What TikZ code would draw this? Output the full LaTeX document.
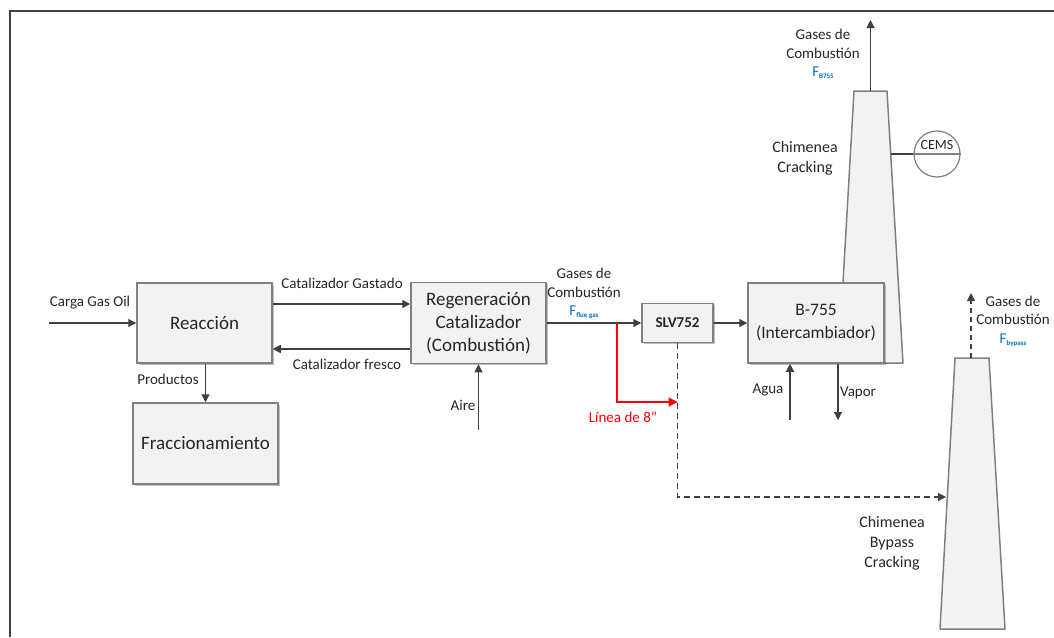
\documentclass[tikz,border=0pt]{standalone}
\usepackage{fontspec}
\setmainfont{Carlito}
\usetikzlibrary{arrows.meta,shadows}
\definecolor{boxfill}{RGB}{242,242,242}
\definecolor{boxline}{RGB}{128,128,128}
\definecolor{linec}{RGB}{64,64,64}
\definecolor{fblue}{RGB}{0,112,192}
\definecolor{txt}{RGB}{38,38,38}
\definecolor{redline}{RGB}{255,0,0}
\newcommand{\Fsub}[1]{\textcolor{fblue}{F\raisebox{-2pt}{\fontsize{7}{8}\selectfont\bfseries #1}}}
\begin{document}
\begin{tikzpicture}[x=1pt,y=-1pt,
  blk/.style={draw=boxline, fill=boxfill, line width=1.5pt, inner sep=0pt, align=center,
    font=\fontsize{19}{23}\selectfont, text=txt,
    drop shadow={shadow xshift=1.5pt, shadow yshift=-1.5pt, opacity=0.25, fill=black}},
  lbl/.style={inner sep=0pt, align=center, font=\fontsize{15}{18.5}\selectfont, text=txt},
  biglbl/.style={inner sep=0pt, align=center, font=\fontsize{16}{20}\selectfont, text=txt},
  flow/.style={draw=linec, line width=1.2pt, -{Triangle[length=8pt,width=8pt]}},
  redflow/.style={draw=redline, line width=1.5pt, -{Triangle[length=9pt,width=9pt]}},
  plain/.style={draw=linec, line width=1.2pt},
  stackshape/.style={draw=boxline, fill=boxfill, line width=1.5pt, line join=round},
]
\useasboundingbox (0,0) rectangle (1054,637);
% frame
\draw[line width=2.5pt, color=linec] (10,637) -- (10,11) -- (1054,11);

% stacks
\draw[stackshape] (838.4,363) -- (854,91) -- (887,91) -- (903,363) -- cycle;
\draw[stackshape] (940,629) -- (955,358) -- (989,358) -- (1005,629) -- cycle;
\coordinate (s1top) at (870.5,91);
\coordinate (s1out) at (870.5,20);
\coordinate (s1r) at (890.7,154);
\coordinate (s2top) at (971,358);
\coordinate (s2out) at (971,293);
\coordinate (s2in) at (946,497);

% boxes
\node[blk, minimum width=135pt, minimum height=80pt] (rea) at (204.5,323) {Reacción};
\node[blk, minimum width=145pt, minimum height=81pt] (fra) at (205.5,443.5) {Fraccionamiento};
\node[blk, minimum width=135pt, minimum height=81pt] (reg) at (478.5,323) {Regeneración\\Catalizador\\(Combustión)};
\node[blk, minimum width=71pt, minimum height=39pt, font=\fontsize{15}{18}\selectfont\bfseries] (slv) at (677.5,323) {SLV752};
\node[blk, minimum width=136pt, minimum height=80pt, font=\fontsize{17.5}{23}\selectfont] (b755) at (816,323) {B-755\\(Intercambiador)};

% CEMS
\node[circle, draw=boxline, line width=1.2pt, minimum size=46pt, inner sep=0pt] (cems) at (937,154) {};
\draw[boxline, line width=1.2pt] (cems.west) -- (cems.east);
\node[inner sep=0pt, font=\fontsize{14}{16}\selectfont, text=txt] (cemst) at (937,145) {CEMS};
\draw[plain] (s1r) -- (cems.west);

% coordinates for free ends
\coordinate (cgin) at (49,323);
\coordinate (aire) at (478.5,430);
\coordinate (rs) at (617,323);
\coordinate (rc) at (617,402);
\coordinate (agua) at (790,420);
\coordinate (vap) at (838,420);

% connectors
\draw[flow] (cgin) -- (rea.west);
\draw[flow] ([yshift=19pt]rea.east) -- ([yshift=19pt]reg.west);
\draw[flow] ([yshift=-26pt]reg.west) -- ([yshift=-26pt]rea.east);
\draw[flow] (rea.south -| fra.north) -- (fra.north);
\draw[flow] (aire) -- (reg.south);
\draw[flow] (reg.east) -- (slv.west);
\draw[flow] (slv.east) -- (b755.west);
\draw[flow, dashed, dash pattern=on 6pt off 4pt] (slv.south) |- (s2in);
\draw[redflow] (rs) |- (slv.south |- rc);
\draw[flow] (agua) -- (agua |- b755.south);
\draw[flow] (vap |- b755.south) -- (vap);
\draw[flow] (s1top) -- (s1out);
\draw[flow, dashed, dash pattern=on 5pt off 4pt] (s2top) -- (s2out);

% labels
\node[lbl] (l1) at (90,303) {Carga Gas Oil};
\node[lbl] (l2) at (342,283) {Catalizador Gastado};
\node[lbl] (l3) at (347,364) {Catalizador fresco};
\node[lbl] (l4) at (168,379) {Productos};
\node[lbl] (l5) at (463,405) {Aire};
\node[lbl] (l6) at (584,293.5) {Gases de\\Combustión\\\Fsub{flue gas}};
\node[lbl, text=redline] (l7) at (623,417) {Línea de 8''};
\node[lbl] (l8) at (768,390) {Agua};
\node[lbl] (l9) at (858,393) {Vapor};
\node[lbl] (l10) at (823,54) {Gases de\\Combustión\\\Fsub{B755}};
\node[biglbl] (l11) at (805,158) {Chimenea\\Cracking};
\node[lbl] (l12) at (1013,321) {Gases de\\Combustión\\\Fsub{bypass}};
\node[biglbl] (l13) at (892,543) {Chimenea\\Bypass\\Cracking};
\end{tikzpicture}
\end{document}
